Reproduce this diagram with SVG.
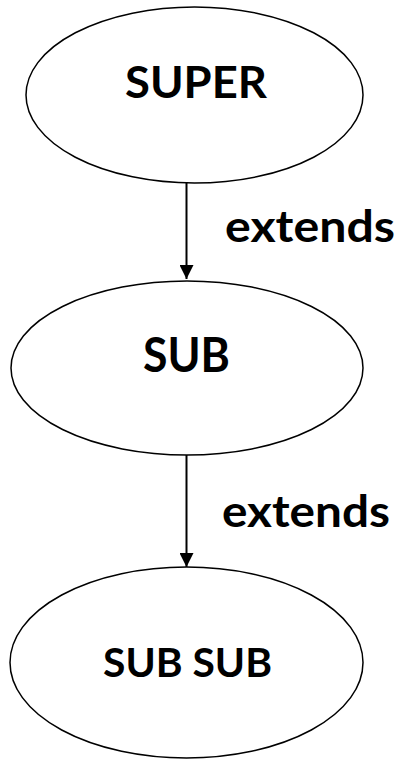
<svg xmlns="http://www.w3.org/2000/svg" width="400" height="760" viewBox="0 0 400 760">
<style>
.node ellipse{fill:#fff;stroke:#000;stroke-width:1.5}
.lbl{font-family:Lato,"Open Sans","Liberation Sans",sans-serif;font-weight:bold;fill:#000;text-anchor:middle}
.edge{stroke:#000;stroke-width:2;fill:none}
</style>
<defs>
<marker id="ah" viewBox="0 0 14 14" refX="14" refY="7" markerWidth="14" markerHeight="14" markerUnits="userSpaceOnUse" orient="auto">
<path d="M0,0 L14,7 L0,14 Z" fill="#000"/>
</marker>
</defs>
<g id="connectors">
<line class="edge" x1="186.5" y1="183" x2="186.5" y2="279" marker-end="url(#ah)"/>
<line class="edge" x1="186.5" y1="455" x2="186.5" y2="567" marker-end="url(#ah)"/>
<text class="lbl" x="310" y="242" font-size="44" textLength="170" lengthAdjust="spacingAndGlyphs">extends</text>
<text class="lbl" x="306" y="527" font-size="44" textLength="168" lengthAdjust="spacingAndGlyphs">extends</text>
</g>
<g id="super" class="node">
<ellipse cx="194.5" cy="95" rx="168.5" ry="88"/>
<text class="lbl" x="196" y="98" font-size="44.7" textLength="142" lengthAdjust="spacingAndGlyphs">SUPER</text>
</g>
<g id="sub" class="node">
<ellipse cx="187" cy="368" rx="176" ry="87"/>
<text class="lbl" x="186.5" y="372" font-size="47.5" textLength="87" lengthAdjust="spacingAndGlyphs">SUB</text>
</g>
<g id="subsub" class="node">
<ellipse cx="186.5" cy="662.5" rx="176.5" ry="95.5"/>
<text class="lbl" x="187.5" y="677" font-size="40" textLength="169" lengthAdjust="spacingAndGlyphs">SUB SUB</text>
</g>
</svg>
